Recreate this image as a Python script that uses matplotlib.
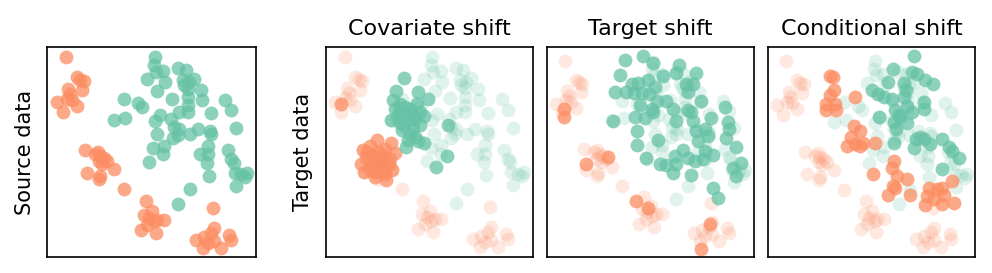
import numpy as np
import matplotlib
matplotlib.use("Agg")
import matplotlib.pyplot as plt

ORANGE = "#fc8d62"
GREEN = "#66c2a5"

##############################
# DATA (embedding coordinates, y grows downwards)
##############################
source_orange = [
    (78, 50), (110, 110), (120, 118), (130, 122), (125, 150), (85, 145), (90, 160),
    (80, 175), (95, 180), (110, 198), (50, 185), (68, 215),
    (135, 328), (173, 332), (180, 345), (190, 350), (175, 360), (185, 370), (220, 385),
    (140, 395), (175, 415), (250, 445), (165, 340), (200, 360), (178, 405),
    (315, 480), (310, 520), (325, 530), (340, 540), (350, 535), (370, 535), (300, 565),
    (345, 575), (320, 550), (335, 510),
    (517, 500), (520, 560), (510, 575), (465, 595), (490, 585), (485, 620), (520, 598),
    (540, 620), (565, 580), (570, 595), (500, 605),
]
source_green = [
    (342, 52), (340, 75), (345, 95), (368, 92), (372, 125), (318, 117), (350, 152),
    (413, 85), (435, 90), (425, 120), (458, 115), (440, 145), (480, 148), (483, 180),
    (440, 170), (395, 175), (440, 195), (250, 177), (293, 188), (305, 200), (255, 232),
    (220, 238), (358, 222), (342, 240), (415, 215), (440, 215), (392, 235), (552, 178),
    (570, 208), (510, 217), (585, 262), (348, 280), (400, 260), (415, 265), (448, 280),
    (472, 265), (508, 272), (510, 280), (398, 292), (370, 315), (338, 323), (368, 340),
    (325, 362), (478, 340), (500, 315), (502, 340), (498, 365), (560, 328), (570, 355),
    (578, 365), (580, 395), (600, 400), (618, 395), (612, 408), (585, 435), (505, 405),
    (447, 445), (413, 488), (430, 135), (445, 125), (412, 282),
]

covariate_orange = [
    (176, 298), (218, 308), (156, 318), (134, 328), (201, 325), (231, 338), (181, 335),
    (161, 345), (196, 348), (126, 372), (154, 370), (178, 372), (211, 372), (169, 395),
    (196, 392), (221, 388), (171, 410), (204, 420), (144, 352), (188, 360), (216, 355),
    (136, 395), (181, 385), (156, 390), (166, 365), (201, 400), (146, 335), (68, 190),
]
covariate_green = [
    (256, 115), (234, 152), (298, 155), (328, 177), (224, 180), (246, 190), (276, 205),
    (306, 215), (236, 230), (264, 225), (291, 235), (256, 258), (284, 262), (306, 255),
    (316, 228), (218, 240), (246, 248), (274, 280), (298, 302), (264, 320), (318, 308),
    (389, 255), (386, 348), (354, 380), (268, 300), (291, 290), (251, 270), (276, 240),
    (231, 205), (296, 190), (261, 200), (281, 220), (241, 215),
]

target_orange = [
    (75, 202), (75, 229), (141, 378), (208, 354), (291, 493), (328, 516), (513, 567),
    (486, 646),
]
target_green = [
    (258, 46), (313, 35), (341, 56), (243, 96), (373, 99), (411, 88), (421, 64),
    (471, 88), (278, 122), (298, 120), (328, 112), (348, 133), (228, 149), (261, 149),
    (285, 152), (308, 152), (331, 156), (353, 176), (381, 176), (303, 191), (338, 202),
    (403, 202), (441, 122), (448, 149), (463, 122), (488, 176), (558, 195), (221, 241),
    (288, 229), (318, 231), (343, 213), (413, 239), (448, 207), (463, 239), (458, 213),
    (518, 231), (568, 245), (571, 266), (293, 271), (358, 301), (293, 316), (473, 271),
    (478, 303), (498, 266), (508, 287), (563, 293), (593, 322), (321, 356), (363, 376),
    (381, 380), (408, 351), (411, 378), (403, 404), (433, 333), (448, 356), (468, 367),
    (498, 335), (523, 349), (493, 362), (458, 410), (583, 388), (608, 372), (593, 415),
    (523, 452), (538, 484),
]

conditional_orange = [
    (208, 97), (218, 101), (220, 138), (208, 156), (196, 181), (223, 181), (198, 202),
    (226, 202), (283, 161), (280, 248), (298, 264), (270, 284), (260, 310), (283, 305),
    (298, 310), (308, 300), (343, 303), (398, 356), (393, 377), (338, 395), (408, 402),
    (438, 413), (396, 433), (383, 459), (403, 438), (448, 461), (503, 438), (528, 443),
    (543, 438), (573, 418), (498, 464), (518, 474), (548, 461), (578, 485), (493, 490),
    (543, 488),
]
conditional_green = [
    (460, 36), (396, 74), (453, 84), (468, 91), (493, 108), (516, 120), (383, 115),
    (430, 118), (436, 140), (333, 138), (353, 151), (370, 161), (393, 166), (428, 161),
    (438, 187), (488, 176), (490, 197), (403, 202), (413, 217), (453, 207), (356, 223),
    (398, 238), (406, 259), (438, 241), (466, 289), (488, 289), (508, 305), (458, 317),
    (398, 300), (543, 289), (563, 313), (573, 325), (593, 346), (543, 382), (476, 284),
    (418, 223),
]

titles = ["", "Covariate shift", "Target shift", "Conditional shift"]
ylabels = ["Source data", "Target data", "", ""]


##############################
# PLOT
##############################
def scatter(ax, pts, color, alpha):
    pts = np.array(pts)
    ax.scatter(pts[:, 0], pts[:, 1], s=100, color=color, alpha=alpha, linewidths=0)


fig = plt.figure(figsize=(9.92, 2.73), dpi=100)
lefts = [0.0477, 0.3283, 0.5511, 0.7739]
widths = [0.210, 0.209, 0.209, 0.209]
limits = [((22, 643), (645, 22)),
          ((21, 646), (648, 22)),
          ((23, 646), (670, 7)),
          ((23, 641), (649, 9))]
targets = [None,
           (covariate_orange, covariate_green),
           (target_orange, target_green),
           (conditional_orange, conditional_green)]

for i in range(4):
    ax = fig.add_axes([lefts[i], 0.0597, widths[i], 0.767])
    if targets[i] is None:
        scatter(ax, source_orange, ORANGE, 0.75)
        scatter(ax, source_green, GREEN, 0.75)
    else:
        scatter(ax, source_orange, ORANGE, 0.2)
        scatter(ax, source_green, GREEN, 0.2)
        scatter(ax, targets[i][0], ORANGE, 0.75)
        scatter(ax, targets[i][1], GREEN, 0.75)
    ax.set_xlim(*limits[i][0])
    ax.set_ylim(*limits[i][1])
    ax.set_xticks([])
    ax.set_yticks([])
    for spine in ax.spines.values():
        spine.set_linewidth(1.2)
    if titles[i]:
        ax.set_title(titles[i], fontsize=16, pad=9)
    if ylabels[i]:
        ax.set_ylabel(ylabels[i], fontsize=15, labelpad=9)

fig.savefig("out.png", dpi=100)
